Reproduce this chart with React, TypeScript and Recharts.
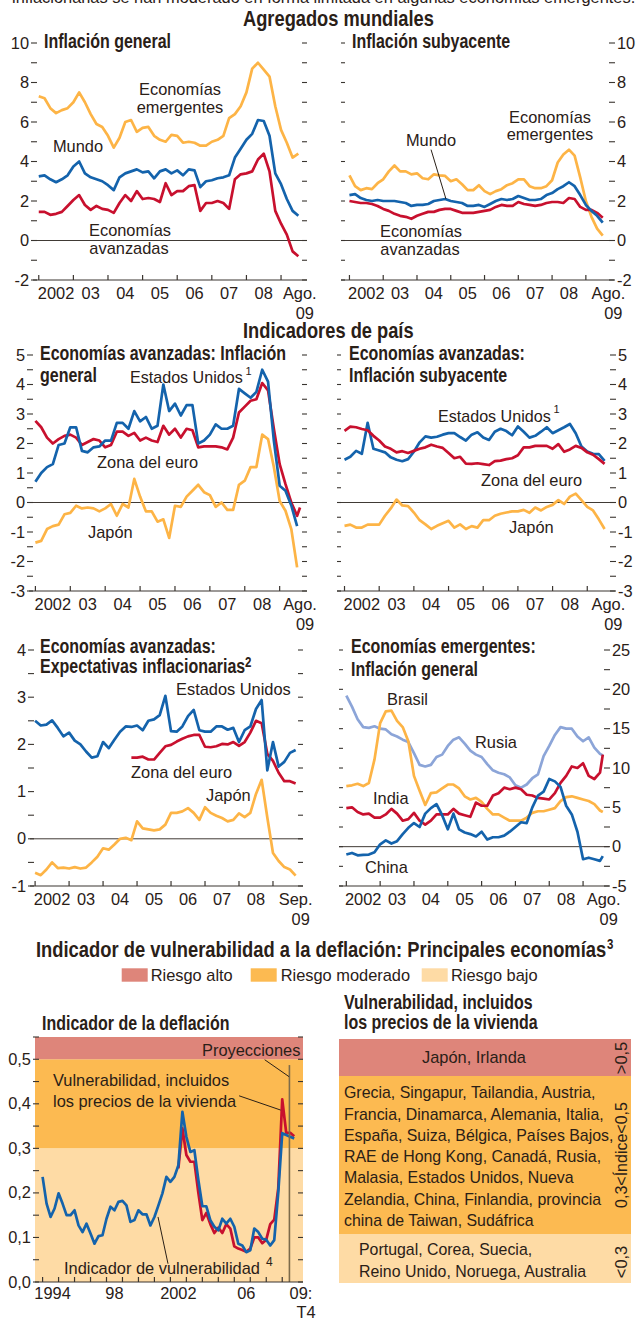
import React from 'react';
import { LineChart, Line, XAxis, YAxis, ReferenceLine, ReferenceArea } from 'recharts';

const SANS = '"Liberation Sans", Arial, Helvetica, sans-serif';
const INK = '#2a2017';
const AXIS = '#3a3530';
const ORANGE = '#FDB446';
const BLUE = '#1463AC';
const RED = '#C8102E';
const LIGHTBLUE = '#8CA5D8';
const BAND_LOW = '#FEDBA5';
const BAND_MID = '#FCBA51';
const BAND_HIGH = '#DE857A';

// ---------- categories ----------
const MONTHS = Array.from({ length: 46 }, (_, i) => i * 2); // months since Jan 2002
const MONTHS_91 = [...MONTHS, 91];
const MONTHS_92 = [...MONTHS, 92];
const QUARTERS = Array.from({ length: 64 }, (_, i) => i); // quarters since 1994 Q1

const YEAR_TICKS = [0, 12, 24, 36, 48, 60, 72, 84];
const YEAR_LABEL_POS = [6, 18, 30, 42, 54, 66, 78];
const YEAR_LABELS = ['2002', '03', '04', '05', '06', '07', '08'];

const Q_TICKS = [0, 4, 8, 12, 16, 20, 24, 28, 32, 36, 40, 44, 48, 52, 56, 60];
const Q_LABEL_POS = [2.5, 18, 34, 51];
const Q_LABELS = ['1994', '98', '2002', '06'];

// ---------- Agregados mundiales: inflación general ----------
const P1_EMERGENTES = [7.3,7.2,6.7,6.45,6.6,6.7,7.0,7.5,7.0,6.4, 5.9,5.75,5.3,4.7,5.2,6.0,6.1,5.5,5.7,5.75, 5.3,5.1,5.0,5.35,5.3,4.95,5.0,4.95,4.8,4.8, 5.0,5.1,5.3,6.2,6.4,6.8,7.5,8.7,9.0,8.65, 8.3,6.8,5.6,4.95,4.2,4.4];
const P1_MUNDO = [3.25,3.3,3.1,2.95,3.1,3.3,3.75,4.0,3.4,3.2, 3.1,3.0,2.8,2.55,3.2,3.4,3.5,3.6,3.45,3.5, 3.15,3.5,3.6,3.4,3.55,3.3,3.6,3.55,2.7,3.0, 3.05,3.15,3.2,3.3,4.2,4.65,5.1,5.4,6.1,6.05, 5.3,3.4,2.85,2.1,1.5,1.25];
const P1_AVANZADAS = [1.45,1.45,1.3,1.35,1.45,1.75,2.05,2.3,1.8,1.55, 1.75,1.6,1.55,1.4,1.9,2.3,2.0,2.5,2.1,2.15, 2.1,1.95,2.9,2.3,2.5,2.5,2.75,2.8,1.5,1.9, 1.9,2.0,1.9,1.6,3.1,3.35,3.4,3.5,4.1,4.4, 3.5,1.5,0.85,0.3,-0.55,-0.8];

// ---------- Agregados mundiales: inflación subyacente ----------
const P2_EMERGENTES = [3.3,2.75,2.55,2.65,2.6,2.9,3.1,3.5,3.8,3.5, 3.5,3.35,3.4,3.15,3.1,3.35,3.3,3.27,3.0,3.1, 2.85,2.55,2.55,2.8,2.5,2.35,2.5,2.6,2.8,2.9, 3.1,3.1,2.75,2.65,2.65,2.75, 3.05,3.95,4.35,4.6,4.3,3.2,2.0,1.2,0.6,0.25];
const P2_MUNDO = [2.3,2.35,2.15,2.05,2.0,2.05,2.0,2.0,2.0,1.95, 1.9,1.75,1.8,1.8,1.85,2.0,2.05,2.1,2.0,1.95, 1.9,1.75,1.75,1.8,1.7,1.85,2.0,2.1,2.05,2.1, 2.25,2.15,2.05,2.05,2.1,2.3, 2.4,2.6,2.75,2.95,2.75,2.3,1.8,1.5,1.25,0.9];
const P2_AVANZADAS = [2.0,1.95,1.9,1.9,1.85,1.75,1.6,1.5,1.35,1.25, 1.2,1.1,1.25,1.35,1.45,1.45,1.55,1.6,1.6,1.5, 1.4,1.4,1.4,1.45,1.5,1.55,1.7,1.8,1.75,1.75, 1.95,1.85,1.8,1.75,1.8,1.9, 1.95,1.95,1.9,2.15,2.1,1.7,1.55,1.55,1.4,1.15];

// ---------- Economías avanzadas: inflación general ----------
const P3_EEUU = [0.7,1.0,1.2,1.3,1.95,2.0,2.55,2.55,1.75,1.7, 1.87,1.9,2.1,2.1,2.7,2.7,2.5,3.1,2.75,2.9, 2.5,2.6,4.0,3.1,3.35,2.95,3.3,3.3,2.0,2.1, 2.3,2.65,2.5,2.5,2.6,3.85, 3.7,3.55,3.75,4.5,4.1,2.1,0.57,0.4,-0.1,-0.8, null];
const P3_EURO = [2.77,2.55,2.2,2.0,2.15,2.26,2.3,2.2,1.95,2.05, 2.15,2.1,1.87,1.95,2.4,2.4,2.26,2.36,2.1,2.2, 2.1,2.05,2.6,2.3,2.5,2.2,2.5,2.45,1.87,1.9, 1.9,1.9,1.87,1.8,2.2,3.05, 3.25,3.45,3.5,4.05,3.8,2.5,1.3,0.62,0.0,-0.45,-0.17];
const P3_JAPON = [-1.36,-1.3,-0.9,-0.8,-0.75,-0.4,-0.35,-0.11,-0.2,-0.17, -0.2,-0.3,-0.2,-0.05,-0.45,-0.05,-0.17,0.8,0.2,-0.3, -0.3,-0.65,-0.57,-1.2,-0.11,-0.15,0.2,0.4,0.6,0.35, 0.25,-0.15,0.0,-0.25,-0.25,0.6, 0.74,1.2,1.2,2.3,2.15,1.2,0.05,-0.28,-0.9,-2.2, null];

// ---------- Economías avanzadas: inflación subyacente ----------
const P4_EEUU = [1.45,1.55,1.75,1.65,2.7,1.82,1.76,1.7,1.53,1.45, 1.4,1.47,1.72,2.04,2.24,2.2,2.23,2.3,2.35,2.35, 2.22,2.1,2.3,2.38,2.2,2.12,2.4,2.5,2.42,2.28, 2.58,2.4,2.2,2.26,2.4,2.55, 2.35,2.45,2.55,2.66,2.35,1.9,1.73,1.65,1.64,1.41];
const P4_EURO = [2.43,2.57,2.55,2.49,2.45,2.26,2.1,1.9,1.82,1.7, 1.74,1.68,1.75,1.82,1.87,1.96,1.9,1.85,1.68,1.5, 1.55,1.32,1.31,1.33,1.3,1.27,1.4,1.42,1.47,1.5, 1.6,1.87,1.87,1.92,1.92,1.92, 1.82,1.98,1.72,1.8,1.92,1.85,1.7,1.62,1.47,1.31];
const P4_JAPON = [-0.79,-0.75,-0.85,-0.85,-0.75,-0.75,-0.75,-0.45,-0.2,0.1, -0.1,-0.12,-0.34,-0.6,-0.74,-0.9,-0.79,-0.7,-0.62,-0.85, -0.74,-0.9,-0.8,-0.85,-0.6,-0.6,-0.45,-0.38,-0.34,-0.3, -0.3,-0.25,-0.35,-0.17,-0.27,-0.15, -0.08,0.08,-0.05,0.2,0.3,0.08,-0.15,-0.27,-0.57,-0.9];

// ---------- Economías avanzadas: expectativas inflacionarias ----------
const P5_EEUU = [2.5,2.4,2.42,2.51,2.35,2.17,2.25,2.08,2.0,1.85, 1.72,1.75,2.05,1.92,2.1,2.27,2.38,2.37,2.4,2.3, 2.5,2.53,2.62,3.03,2.28,2.27,2.38,2.6,2.73,2.3, 2.27,2.27,2.38,2.38,2.31,2.35, 2.05,2.3,2.38,2.75,2.94,1.45,2.05,1.53,1.63,1.82,1.88];
const P5_EURO = [null,null,null,null,null,null,null,null,null,null, null,null,null,null,null,null,null, 1.72,1.72,1.74,1.68,1.68,1.82,1.96,1.99,2.06,2.12, 2.17,2.2,2.2,1.95,1.94,1.96,2.01,2.0,2.05,1.97, 2.05,2.25,2.5,2.45,1.8,1.65,1.4,1.22,1.22,1.17];
const P5_JAPON = [-0.72,-0.77,-0.65,-0.5,-0.62,-0.61,-0.63,-0.6,-0.63,-0.61, -0.5,-0.38,-0.2,-0.23,-0.12,0.0,0.02,-0.03,0.37,0.22, 0.2,0.18,0.2,0.3,0.55,0.55,0.58,0.65,0.55,0.4, 0.67,0.55,0.49,0.44,0.37,0.4, 0.54,0.46,0.55,0.95,1.25,0.45,-0.3,-0.47,-0.6,-0.65,-0.78];

// ---------- Economías emergentes: inflación general ----------
const P6_RUSIA = [19.2,17.8,16.2,15.2,15.1,15.3,15.0,14.9,14.3,14.0, 13.6,13.3,11.9,10.4,10.2,10.4,11.4,11.7,12.8,13.6, 13.9,13.1,12.2,11.7,11.4,10.5,9.7,9.4,9.2,8.8, 7.8,7.5,7.9,8.7,9.2,11.5, 12.8,14.2,15.2,15.0,15.0,14.0,13.4,13.9,12.6,11.8,11.6];
const P6_BRASIL = [7.7,7.8,8.0,7.7,8.1,11.1,15.7,17.2,17.3,16.0, 15.2,13.4,9.0,7.1,5.3,6.8,6.9,7.4,7.9,7.9, 7.4,6.4,6.0,6.2,5.7,4.8,4.1,4.1,3.7,3.3, 3.3,3.3,3.7,4.3,4.5,4.5, 4.7,4.9,5.8,6.3,6.4,6.2,6.0,5.8,5.4,4.6,4.4];
const P6_INDIA = [4.9,5.0,4.4,4.1,4.2,3.7,3.7,4.1,4.8,4.2, 3.3,3.5,4.3,3.3,2.8,3.3,4.1,4.1,4.1,4.8, 4.2,4.0,3.8,5.6,5.2,5.2,6.5,6.8,7.5,7.3, 7.5,7.3,6.6,6.5,6.2,6.1, 6.0,6.8,8.1,9.0,10.2,10.0,10.6,9.0,8.6,9.4,11.7];
const P6_CHINA = [-1.0,-0.8,-1.1,-1.05,-1.0,-0.7,0.3,0.8,0.4,0.7, 1.6,2.4,3.0,2.5,4.2,4.9,5.4,4.0,2.2,4.2, 2.2,1.8,1.6,1.3,1.9,0.9,1.2,1.2,1.4,1.9, 2.5,3.1,3.0,5.0,6.5,7.0, 8.6,8.3,7.6,5.2,4.1,1.9,-1.6,-1.4,-1.6,-1.8,-1.2];

// ---------- Indicador de la deflación (trimestral) ----------
const P7_VULNERABILIDAD = [0.236,0.176,0.146,0.165,0.199,0.176,0.15,0.15,0.161,0.127, 0.112,0.131,0.109,0.086,0.103,0.105,0.142,0.169,0.161,0.18, 0.182,0.172,0.135,0.139,0.161,0.152,0.152,0.127,0.146,0.172, 0.199,0.236,0.225,0.236,0.262,0.382,0.326,0.292,0.296,0.229, 0.17,0.17,0.139,0.124,0.116,0.142,0.131,0.142,0.124,0.086, 0.082,0.067,0.071,0.12,0.112,0.097,0.095,0.082,0.094,0.2, 0.334,0.33,0.326,0.322];
const P7_VIVIENDA = [null,null,null,null,null,null,null,null,null,null, null,null,null,null,null,null,null,null,null,null, null,null,null,null,null,null,null,null,null,null, null,null,null,null, 0.255,0.345,0.285,0.27,0.27,0.2, 0.139,0.155,0.13,0.11,0.122,0.11,0.13,0.12,0.08,0.075, 0.072,0.068,0.075,0.1,0.1,0.087,0.095,0.13,0.14,0.21, 0.41,0.335,0.335,0.327];

// ---------- tick values ----------
const Y_P1 = [-2,-1,0,1,2,3,4,5,6,7,8,9,10];
const Y_P3 = [-3,-2.5,-2,-1.5,-1,-0.5,0,0.5,1,1.5,2,2.5,3,3.5,4,4.5,5];
const Y_P5 = [-1,-0.5,0,0.5,1,1.5,2,2.5,3,3.5,4];
const Y_P6 = [-5,-2.5,0,2.5,5,7.5,10,12.5,15,17.5,20,22.5,25];
const Y_P7 = [0,0.05,0.1,0.15,0.2,0.25,0.3,0.35,0.4,0.45,0.5,0.55];

type XLabel = { v: number; text: string; text2?: string };
type Series = { key: string; values: (number | null)[]; color: string };
type PanelCfg = {
  box: [number, number, number, number];
  plot: [number, number, number, number];
  xs: number[];
  series: Series[];
  xDomain: [number, number];
  yDomain: [number, number];
  yTicks: number[];
  isLabeled: (v: number) => boolean;
  fmt?: (v: number) => string;
  labelSide: 'left' | 'right';
  xTicks: number[];
  xLabels: XLabel[];
  labelDy: [number, number];
  zero: boolean;
  bands?: React.ReactNode[];
  extras?: React.ReactNode[];
};

const monthLabels = (lastPos: number, lastText: string): XLabel[] => [
  ...YEAR_LABEL_POS.map((v, i) => ({ v, text: YEAR_LABELS[i] })),
  { v: lastPos, text: lastText, text2: '09' },
];

function Panel({ cfg }: { cfg: PanelCfg }) {
  const [bl, bt, bw, bh] = cfg.box;
  const [pl, pt, pr, pb] = cfg.plot;
  // axes take 1px each (left, right, bottom)
  const margin = { left: pl - bl - 1, top: pt - bt, right: bl + bw - pr - 1, bottom: bt + bh - pb - 1 };
  const rows = cfg.xs.map((x, i) => {
    const r: Record<string, number | null> = { x };
    cfg.series.forEach((s) => {
      const v = s.values[i];
      r[s.key] = v === undefined ? null : v;
    });
    return r;
  });
  const labelMap = new Map<number, XLabel>(cfg.xLabels.map((l) => [l.v, l]));
  const allXTicks = [...cfg.xTicks, ...cfg.xLabels.map((l) => l.v)].sort((a, b) => a - b);
  const fmt = cfg.fmt ?? ((v: number) => String(v));

  const xTick = (props: any) => {
    const { x, y, payload } = props;
    const lab = labelMap.get(payload.value);
    if (lab) {
      return (
        <g>
          <text x={x} y={y + cfg.labelDy[0]} textAnchor="middle" fontFamily={SANS} fontSize={16.4} fill={INK}>{lab.text}</text>
          {lab.text2 ? (
            <text x={x + 5} y={y + cfg.labelDy[1]} textAnchor="middle" fontFamily={SANS} fontSize={16.4} fill={INK}>{lab.text2}</text>
          ) : null}
        </g>
      );
    }
    return <line x1={x} x2={x} y1={y} y2={y - 5} stroke={AXIS} strokeWidth={1.2} />;
  };

  const yTick = (side: 'left' | 'right') => (props: any) => {
    const { x, y, payload } = props;
    const v = payload.value as number;
    const labeledSide = side === cfg.labelSide;
    const lab = labeledSide && cfg.isLabeled(v);
    const x1 = side === 'left' ? (labeledSide ? x - 2 : x) : x - 5;
    const x2 = side === 'left' ? x + 4 : (labeledSide ? x + 1 : x);
    return (
      <g>
        <line x1={x1} x2={x2} y1={y} y2={y} stroke={AXIS} strokeWidth={1.1} />
        {lab ? (
          <text x={side === 'left' ? x - 4 : x + 3} y={y + 5.5} textAnchor={side === 'left' ? 'end' : 'start'} fontFamily={SANS} fontSize={16.4} fill={INK}>{fmt(v)}</text>
        ) : null}
      </g>
    );
  };

  return (
    <div style={{ position: 'absolute', left: bl, top: bt, width: bw, height: bh }}>
      <LineChart width={bw} height={bh} data={rows} margin={margin}>
        {cfg.bands ?? null}
        <XAxis dataKey="x" type="number" domain={cfg.xDomain} allowDataOverflow ticks={allXTicks} interval={0}
          height={1} tickSize={0} tickMargin={0} tickLine={false} axisLine={{ stroke: AXIS, strokeWidth: 1.2 }} tick={xTick} />
        <YAxis yAxisId="left" orientation="left" type="number" domain={cfg.yDomain} allowDataOverflow ticks={cfg.yTicks}
          interval={0} width={1} tickSize={0} tickMargin={0} tickLine={false} axisLine={false} tick={yTick('left')} />
        <YAxis yAxisId="right" orientation="right" type="number" domain={cfg.yDomain} allowDataOverflow ticks={cfg.yTicks}
          interval={0} width={1} tickSize={0} tickMargin={0} tickLine={false} axisLine={false} tick={yTick('right')} />
        {cfg.zero ? <ReferenceLine yAxisId="left" y={0} stroke="#403a35" strokeWidth={1} /> : null}
        {cfg.series.map((s) => (
          <Line key={s.key} yAxisId="left" type="linear" dataKey={s.key} stroke={s.color} strokeWidth={2.7}
            dot={false} activeDot={false} isAnimationActive={false} connectNulls={false} strokeLinejoin="round" />
        ))}
        {cfg.extras ?? null}
      </LineChart>
    </div>
  );
}

const isInt = (v: number) => Math.abs(v - Math.round(v)) < 1e-9;
const isEven = (v: number) => isInt(v) && Math.round(v) % 2 === 0;
const isMult5 = (v: number) => isInt(v) && Math.round(v) % 5 === 0;
const isTenth = (v: number) => Math.abs(v * 10 - Math.round(v * 10)) < 1e-9;

const leader = (key: string, a: [number, number], b: [number, number], color = '#2a2017', w = 1) => (
  <ReferenceLine key={key} yAxisId="left" segment={[{ x: a[0], y: a[1] }, { x: b[0], y: b[1] }]} stroke={color} strokeWidth={w} ifOverflow="visible" />
);

const PANELS: PanelCfg[] = [
  {
    box: [0, 30, 318, 295], plot: [33, 43, 307, 280], xs: MONTHS,
    series: [
      { key: 'emergentes', values: P1_EMERGENTES, color: ORANGE },
      { key: 'avanzadas', values: P1_AVANZADAS, color: RED },
      { key: 'mundo', values: P1_MUNDO, color: BLUE },
    ],
    xDomain: [-2, 93], yDomain: [-2, 10], yTicks: Y_P1, isLabeled: isEven, labelSide: 'left',
    xTicks: YEAR_TICKS, xLabels: monthLabels(90.5, 'Ago.'), labelDy: [18.5, 38.5], zero: true,
  },
  {
    box: [318, 30, 318, 295], plot: [341, 43, 614, 280], xs: MONTHS,
    series: [
      { key: 'emergentes', values: P2_EMERGENTES, color: ORANGE },
      { key: 'avanzadas', values: P2_AVANZADAS, color: RED },
      { key: 'mundo', values: P2_MUNDO, color: BLUE },
    ],
    xDomain: [-3, 94], yDomain: [-2, 10], yTicks: Y_P1, isLabeled: isEven, labelSide: 'right',
    xTicks: YEAR_TICKS, xLabels: monthLabels(92, 'Ago.'), labelDy: [18.5, 38.5], zero: true,
    extras: [leader('mundo', [29, 4.6], [34.3, 2.1])],
  },
  {
    box: [0, 345, 318, 290], plot: [29, 355, 307, 591], xs: MONTHS_91,
    series: [
      { key: 'japon', values: P3_JAPON, color: ORANGE },
      { key: 'euro', values: P3_EURO, color: RED },
      { key: 'eeuu', values: P3_EEUU, color: BLUE },
    ],
    xDomain: [-2.2, 93.4], yDomain: [-3, 5], yTicks: Y_P3, isLabeled: isInt, labelSide: 'left',
    xTicks: YEAR_TICKS, xLabels: monthLabels(91, 'Ago.'), labelDy: [18.5, 38.5], zero: true,
  },
  {
    box: [318, 345, 318, 290], plot: [337, 355, 615, 591], xs: MONTHS,
    series: [
      { key: 'japon', values: P4_JAPON, color: ORANGE },
      { key: 'eeuu', values: P4_EEUU, color: BLUE },
      { key: 'euro', values: P4_EURO, color: RED },
    ],
    xDomain: [-2.6, 93.6], yDomain: [-3, 5], yTicks: Y_P3, isLabeled: isInt, labelSide: 'right',
    xTicks: YEAR_TICKS, xLabels: monthLabels(91.3, 'Ago.'), labelDy: [18.5, 38.5], zero: true,
  },
  {
    box: [0, 640, 318, 292], plot: [30, 650, 303, 886], xs: MONTHS_92,
    series: [
      { key: 'japon', values: P5_JAPON, color: ORANGE },
      { key: 'euro', values: P5_EURO, color: RED },
      { key: 'eeuu', values: P5_EEUU, color: BLUE },
    ],
    xDomain: [-1.8, 94.6], yDomain: [-1, 4], yTicks: Y_P5, isLabeled: isInt, labelSide: 'left',
    xTicks: YEAR_TICKS, xLabels: monthLabels(92, 'Sep.'), labelDy: [19, 39], zero: true,
  },
  {
    box: [318, 640, 318, 292], plot: [339, 650, 609, 886], xs: MONTHS_91,
    series: [
      { key: 'rusia', values: P6_RUSIA, color: LIGHTBLUE },
      { key: 'brasil', values: P6_BRASIL, color: ORANGE },
      { key: 'india', values: P6_INDIA, color: RED },
      { key: 'china', values: P6_CHINA, color: BLUE },
    ],
    xDomain: [-2.6, 93.2], yDomain: [-5, 25], yTicks: Y_P6, isLabeled: isMult5, labelSide: 'right',
    xTicks: YEAR_TICKS, xLabels: monthLabels(91.3, 'Ago.'), labelDy: [19, 39], zero: true,
  },
  {
    box: [0, 1030, 318, 289], plot: [35, 1037, 303, 1282], xs: QUARTERS,
    series: [
      { key: 'vivienda', values: P7_VIVIENDA, color: RED },
      { key: 'vulnerabilidad', values: P7_VULNERABILIDAD, color: BLUE },
    ],
    xDomain: [-1.9, 65.2], yDomain: [0, 0.55], yTicks: Y_P7, isLabeled: isTenth, labelSide: 'left',
    fmt: (v: number) => v.toFixed(1).replace('.', ','),
    xTicks: Q_TICKS,
    xLabels: [...Q_LABEL_POS.map((v, i) => ({ v, text: Q_LABELS[i] })), { v: 64.7, text: '09:', text2: 'T4' }],
    labelDy: [16.7, 36.3], zero: false,
    bands: [
      <ReferenceArea key="low" yAxisId="left" y1={0} y2={0.3} fill={BAND_LOW} fillOpacity={1} stroke="none" ifOverflow="visible" />,
      <ReferenceArea key="mid" yAxisId="left" y1={0.3} y2={0.5} fill={BAND_MID} fillOpacity={1} stroke="none" ifOverflow="visible" />,
      <ReferenceArea key="high" yAxisId="left" y1={0.5} y2={0.55} fill={BAND_HIGH} fillOpacity={1} stroke="none" ifOverflow="visible" />,
    ],
    extras: [
      leader('proy-line', [61.8, 0], [61.8, 0.487], '#7d6b4a', 1.6),
      leader('proy', [55.6, 0.499], [61.7, 0.461]),
      leader('viv', [49.2, 0.418], [59.6, 0.386]),
      leader('vul', [28.9, 0.146], [31.4, 0.041]),
    ],
  },
];

// regular text
const T = ({ x, y, s = 16.4, a = 'start', children }: any) => (
  <text x={x} y={y} fontSize={s} fontWeight={400} fontFamily={SANS} textAnchor={a} fill={INK}>{children}</text>
);
// condensed bold text (horizontally compressed bold sans)
const B = ({ x, y, s = 19.5, children }: any) => (
  <text transform={`translate(${x} ${y}) scale(0.82 1)`} x={0} y={0} fontSize={s} fontWeight={700} fontFamily={SANS} fill={INK}>{children}</text>
);

const ORANGE_ROWS = [
  'Grecia, Singapur, Tailandia, Austria,',
  'Francia, Dinamarca, Alemania, Italia,',
  'España, Suiza, Bélgica, Países Bajos,',
  'RAE de Hong Kong, Canadá, Rusia,',
  'Malasia, Estados Unidos, Nueva',
  'Zelandia, China, Finlandia, provincia',
  'china de Taiwan, Sudáfrica',
];
const LOW_ROWS = ['Portugal, Corea, Suecia,', 'Reino Unido, Noruega, Australia'];

function Overlay() {
  return (
    <svg width={636} height={1319} style={{ position: 'absolute', left: 0, top: 0, pointerEvents: 'none' }}>
      <T x={12} y={3}>inflacionarias se han moderado en forma limitada en algunas economías emergentes.</T>
      <B x={243} y={26} s={22.3}>Agregados mundiales</B>
      <B x={44} y={48}>Inflación general</B>
      <B x={352} y={48}>Inflación subyacente</B>
      <T x={180} y={95} a="middle">Economías</T>
      <T x={180} y={113} a="middle">emergentes</T>
      <T x={78} y={152} a="middle">Mundo</T>
      <T x={130} y={236} a="middle">Economías</T>
      <T x={129} y={254} a="middle">avanzadas</T>
      <T x={550} y={123} a="middle">Economías</T>
      <T x={550} y={140} a="middle">emergentes</T>
      <T x={431} y={146} a="middle">Mundo</T>
      <T x={421} y={237} a="middle">Economías</T>
      <T x={420} y={255} a="middle">avanzadas</T>

      <B x={243} y={338} s={22.3}>Indicadores de país</B>
      <B x={40} y={360}>Economías avanzadas: Inflación</B>
      <B x={40} y={381.7}>general</B>
      <B x={349} y={360}>Economías avanzadas:</B>
      <B x={349} y={381.7}>Inflación subyacente</B>
      <T x={130} y={383.3} s={16.1}>Estados Unidos</T>
      <T x={245.5} y={375} s={11}>1</T>
      <T x={97} y={467.7}>Zona del euro</T>
      <T x={88} y={538}>Japón</T>
      <T x={438} y={421.7} s={16.1}>Estados Unidos</T>
      <T x={553.5} y={413} s={11}>1</T>
      <T x={481} y={485.7}>Zona del euro</T>
      <T x={509} y={533}>Japón</T>

      <B x={40} y={653}>Economías avanzadas:</B>
      <B x={40} y={673}>Expectativas inflacionarias</B>
      <B x={245} y={667} s={14}>2</B>
      <T x={176} y={695}>Estados Unidos</T>
      <T x={131} y={778}>Zona del euro</T>
      <T x={206} y={801}>Japón</T>
      <B x={351} y={653}>Economías emergentes:</B>
      <B x={351} y={675.7}>Inflación general</B>
      <T x={387} y={705}>Brasil</T>
      <T x={475} y={748}>Rusia</T>
      <T x={373} y={804}>India</T>
      <T x={365} y={872.7}>China</T>

      <B x={36} y={956.7} s={22.4}>Indicador de vulnerabilidad a la deflación: Principales economías</B>
      <B x={607} y={949} s={14}>3</B>
      <rect x={121.7} y={968.3} width={26} height={13.4} fill={BAND_HIGH} />
      <T x={150.7} y={980.7}>Riesgo alto</T>
      <rect x={250.7} y={968.3} width={26} height={13.4} fill={BAND_MID} />
      <T x={280.7} y={980.7}>Riesgo moderado</T>
      <rect x={421.7} y={968.3} width={26} height={13.4} fill={BAND_LOW} />
      <T x={451} y={980.7}>Riesgo bajo</T>

      <B x={42} y={1030}>Indicador de la deflación</B>
      <T x={202} y={1056}>Proyecciones</T>
      <T x={53} y={1085.7}>Vulnerabilidad, incluidos</T>
      <T x={53} y={1106.7}>los precios de la vivienda</T>
      <T x={64} y={1274}>Indicador de vulnerabilidad</T>
      <T x={266} y={1266} s={12}>4</T>

      <B x={344} y={1009.3}>Vulnerabilidad, incluidos</B>
      <B x={344} y={1029.3}>los precios de la vivienda</B>
      <rect x={339} y={1039} width={292} height={37} fill={BAND_HIGH} />
      <rect x={339} y={1076} width={292} height={158} fill={BAND_MID} />
      <rect x={339} y={1234} width={292} height={49} fill={BAND_LOW} />
      <T x={474} y={1063.3} a="middle">Japón, Irlanda</T>
      {ORANGE_ROWS.map((r, i) => (
        <T key={r} x={344} y={1098.3 + i * 21.27} s={15.9}>{r}</T>
      ))}
      {LOW_ROWS.map((r, i) => (
        <T key={r} x={359} y={1255 + i * 21.7} s={15.9}>{r}</T>
      ))}
      <text x={627} y={1058} transform="rotate(-90 627 1058)" textAnchor="middle" fontFamily={SANS} fontSize={16.4} fill={INK}>&gt;0,5</text>
      <text x={627} y={1155} transform="rotate(-90 627 1155)" textAnchor="middle" fontFamily={SANS} fontSize={16} fill={INK}>0,3&lt;Índice&lt;0,5</text>
      <text x={627} y={1262} transform="rotate(-90 627 1262)" textAnchor="middle" fontFamily={SANS} fontSize={16.4} fill={INK}>&lt;0,3</text>
    </svg>
  );
}

export default function App() {
  return (
    <div style={{ position: 'absolute', left: 0, top: 0, width: 636, height: 1319, background: '#fff', overflow: 'hidden', fontFamily: SANS }}>
      {PANELS.map((cfg, i) => (
        <Panel key={i} cfg={cfg} />
      ))}
      <Overlay />
    </div>
  );
}
